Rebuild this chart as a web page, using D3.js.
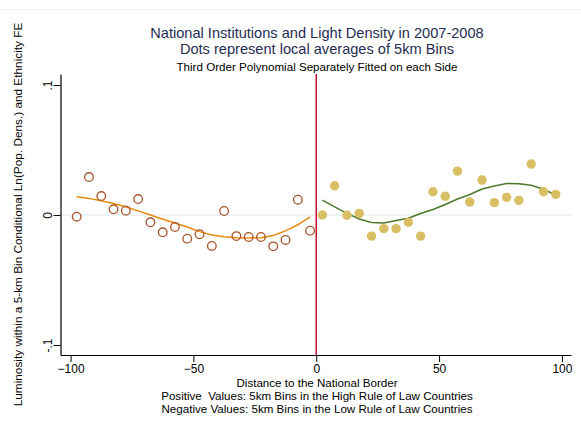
<!DOCTYPE html>
<html>
<head>
<meta charset="utf-8">
<script src="https://cdn.jsdelivr.net/npm/d3@7"></script>
<style>
    body { margin: 0; background: #fff; }
    svg { display: block; font-family: "Liberation Sans", Arial, sans-serif; }
</style>
</head>
<body>
<svg></svg>
<script>
// bins on each side of the border (km)
const leftBins = [-97.5, -92.5, -87.5, -82.5, -77.5, -72.5, -67.5, -62.5, -57.5, -52.5,
    -47.5, -42.5, -37.5, -32.5, -27.5, -22.5, -17.5, -12.5, -7.5, -2.5];
const rightBins = [2.5, 7.5, 12.5, 17.5, 22.5, 27.5, 32.5, 37.5, 42.5, 47.5,
    52.5, 57.5, 62.5, 67.5, 72.5, 77.5, 82.5, 87.5, 92.5, 97.5];

// local averages
const leftMeans = [-0.0013, 0.0292, 0.0146, 0.0044, 0.0033, 0.0123, -0.0056, -0.0133, -0.0092, -0.0182,
    -0.0148, -0.0238, 0.0031, -0.0162, -0.0169, -0.0169, -0.0241, -0.0192, 0.0118, -0.0121];
const rightMeans = [0.0000, 0.0225, -0.0002, 0.0013, -0.0162, -0.0105, -0.0105, -0.0056, -0.0162, 0.0179,
    0.0144, 0.0338, 0.0100, 0.0269, 0.0095, 0.0136, 0.0113, 0.0392, 0.0179, 0.0159];

// fitted values (third order polynomial)
const leftFit = [0.0140, 0.0128, 0.0110, 0.0088, 0.0064, 0.0032, 0.0000, -0.0033, -0.0062, -0.0092,
    -0.0128, -0.0154, -0.0167, -0.0174, -0.0177, -0.0175, -0.0158, -0.0122, -0.0075, -0.0015];
const rightFit = [0.0115, 0.0062, 0.0013, -0.0031, -0.0058, -0.0062, -0.0042, -0.0025, 0.0012, 0.0042,
    0.0081, 0.0123, 0.0158, 0.0200, 0.0223, 0.0242, 0.0241, 0.0229, 0.0198, 0.0154];

const xTicks = [-100, -50, 0, 50, 100];
const yTicks = [-0.1, 0, 0.1];
const yTickLabels = ["-.1", "0", ".1"];

const titleLines = ["National Institutions and Light Density in 2007-2008",
    "Dots represent local averages of 5km Bins"];
const subtitle = "Third Order Polynomial Separately Fitted on each Side";
const xTitleLines = ["Distance to the National Border",
    "Positive  Values: 5km Bins in the High Rule of Law Countries",
    "Negative Values: 5km Bins in the Low Rule of Law Countries"];
const yTitle = "Luminosity within a 5-km Bin Conditional Ln(Pop. Dens.) and Ethnicity FE";

const width = 581, height = 428;
const svg = d3.select("svg").attr("width", width).attr("height", height);

// faint outer frame line at the top
svg.append("line")
    .attr("x1", 0).attr("x2", width).attr("y1", 9.5).attr("y2", 9.5)
    .style("stroke", "#f2f4f5").style("stroke-width", 1);

// plot region
const x = d3.scaleLinear().domain([-104.1, 103.7]).range([60.5, 571]);
const y = d3.scaleLinear().domain([-0.1077, 0.1085]).range([355, 74]);

// zero reference line
svg.append("line")
    .attr("x1", x.range()[0]).attr("x2", x.range()[1])
    .attr("y1", y(0)).attr("y2", y(0))
    .style("stroke", "#e6eff2").style("stroke-width", 1.5);

// axes
const xAxis = svg.append("g")
    .attr("transform", `translate(0,${y.range()[0]})`)
    .call(d3.axisBottom(x).tickValues(xTicks).tickSize(7).tickPadding(2).tickSizeOuter(0));
const yAxis = svg.append("g")
    .attr("transform", `translate(${x.range()[0]},0)`)
    .call(d3.axisLeft(y).tickValues(yTicks).tickSize(7).tickSizeOuter(0)
        .tickFormat((d, i) => yTickLabels[i]));

[xAxis, yAxis].forEach(a => {
    a.select(".domain").style("stroke", "#000").style("stroke-width", 1.2);
    a.selectAll(".tick line").style("stroke", "#000");
    a.selectAll(".tick text").style("font-size", "12px").style("fill", "#000")
        .style("font-family", "Liberation Sans, Arial, sans-serif");
});
// rotated y tick labels
yAxis.selectAll(".tick text")
    .attr("x", 0).attr("dy", 0)
    .attr("text-anchor", "middle")
    .attr("transform", "translate(-9,0) rotate(-90)");

// border line
svg.append("line")
    .attr("x1", x(0)).attr("x2", x(0))
    .attr("y1", y.range()[1]).attr("y2", y.range()[0])
    .style("stroke", "#c8102e").style("stroke-width", 1.5);

// fitted curves
const line = d3.line().x(d => x(d[0])).y(d => y(d[1]));
svg.append("path")
    .datum(d3.zip(leftBins, leftFit))
    .attr("d", line)
    .style("fill", "none").style("stroke", "#ea8a0c").style("stroke-width", 1.5);
svg.append("path")
    .datum(d3.zip(rightBins, rightFit))
    .attr("d", line)
    .style("fill", "none").style("stroke", "#4b7a2c").style("stroke-width", 1.5);

// hollow circles - low rule of law side
svg.append("g").selectAll("circle")
    .data(d3.zip(leftBins, leftMeans))
    .join("circle")
    .attr("cx", d => x(d[0])).attr("cy", d => y(d[1])).attr("r", 4.3)
    .style("fill", "none").style("stroke", "#a9532b").style("stroke-width", 1.3);

// filled circles - high rule of law side
svg.append("g").selectAll("circle")
    .data(d3.zip(rightBins, rightMeans))
    .join("circle")
    .attr("cx", d => x(d[0])).attr("cy", d => y(d[1])).attr("r", 4.7)
    .style("fill", "#d9bf63");

// titles
const cx = 317;
svg.append("g").selectAll("text")
    .data(titleLines)
    .join("text")
    .attr("x", cx).attr("y", (d, i) => 38 + i * 16)
    .attr("text-anchor", "middle")
    .style("font-size", "14.6px").style("fill", "#1f2d52")
    .text(d => d);
svg.append("text")
    .attr("x", cx).attr("y", 71)
    .attr("text-anchor", "middle")
    .style("font-size", "11.6px").style("fill", "#000")
    .text(subtitle);

svg.append("g").selectAll("text")
    .data(xTitleLines)
    .join("text")
    .attr("x", cx).attr("y", (d, i) => 387 + i * 13)
    .attr("text-anchor", "middle")
    .style("font-size", "11.6px").style("fill", "#000")
    .style("white-space", "pre")
    .text(d => d);

svg.append("text")
    .attr("transform", `translate(22,${(y.range()[0] + y.range()[1]) / 2}) rotate(-90)`)
    .attr("text-anchor", "middle")
    .style("font-size", "11.8px").style("fill", "#000")
    .text(yTitle);
</script>
</body>
</html>
